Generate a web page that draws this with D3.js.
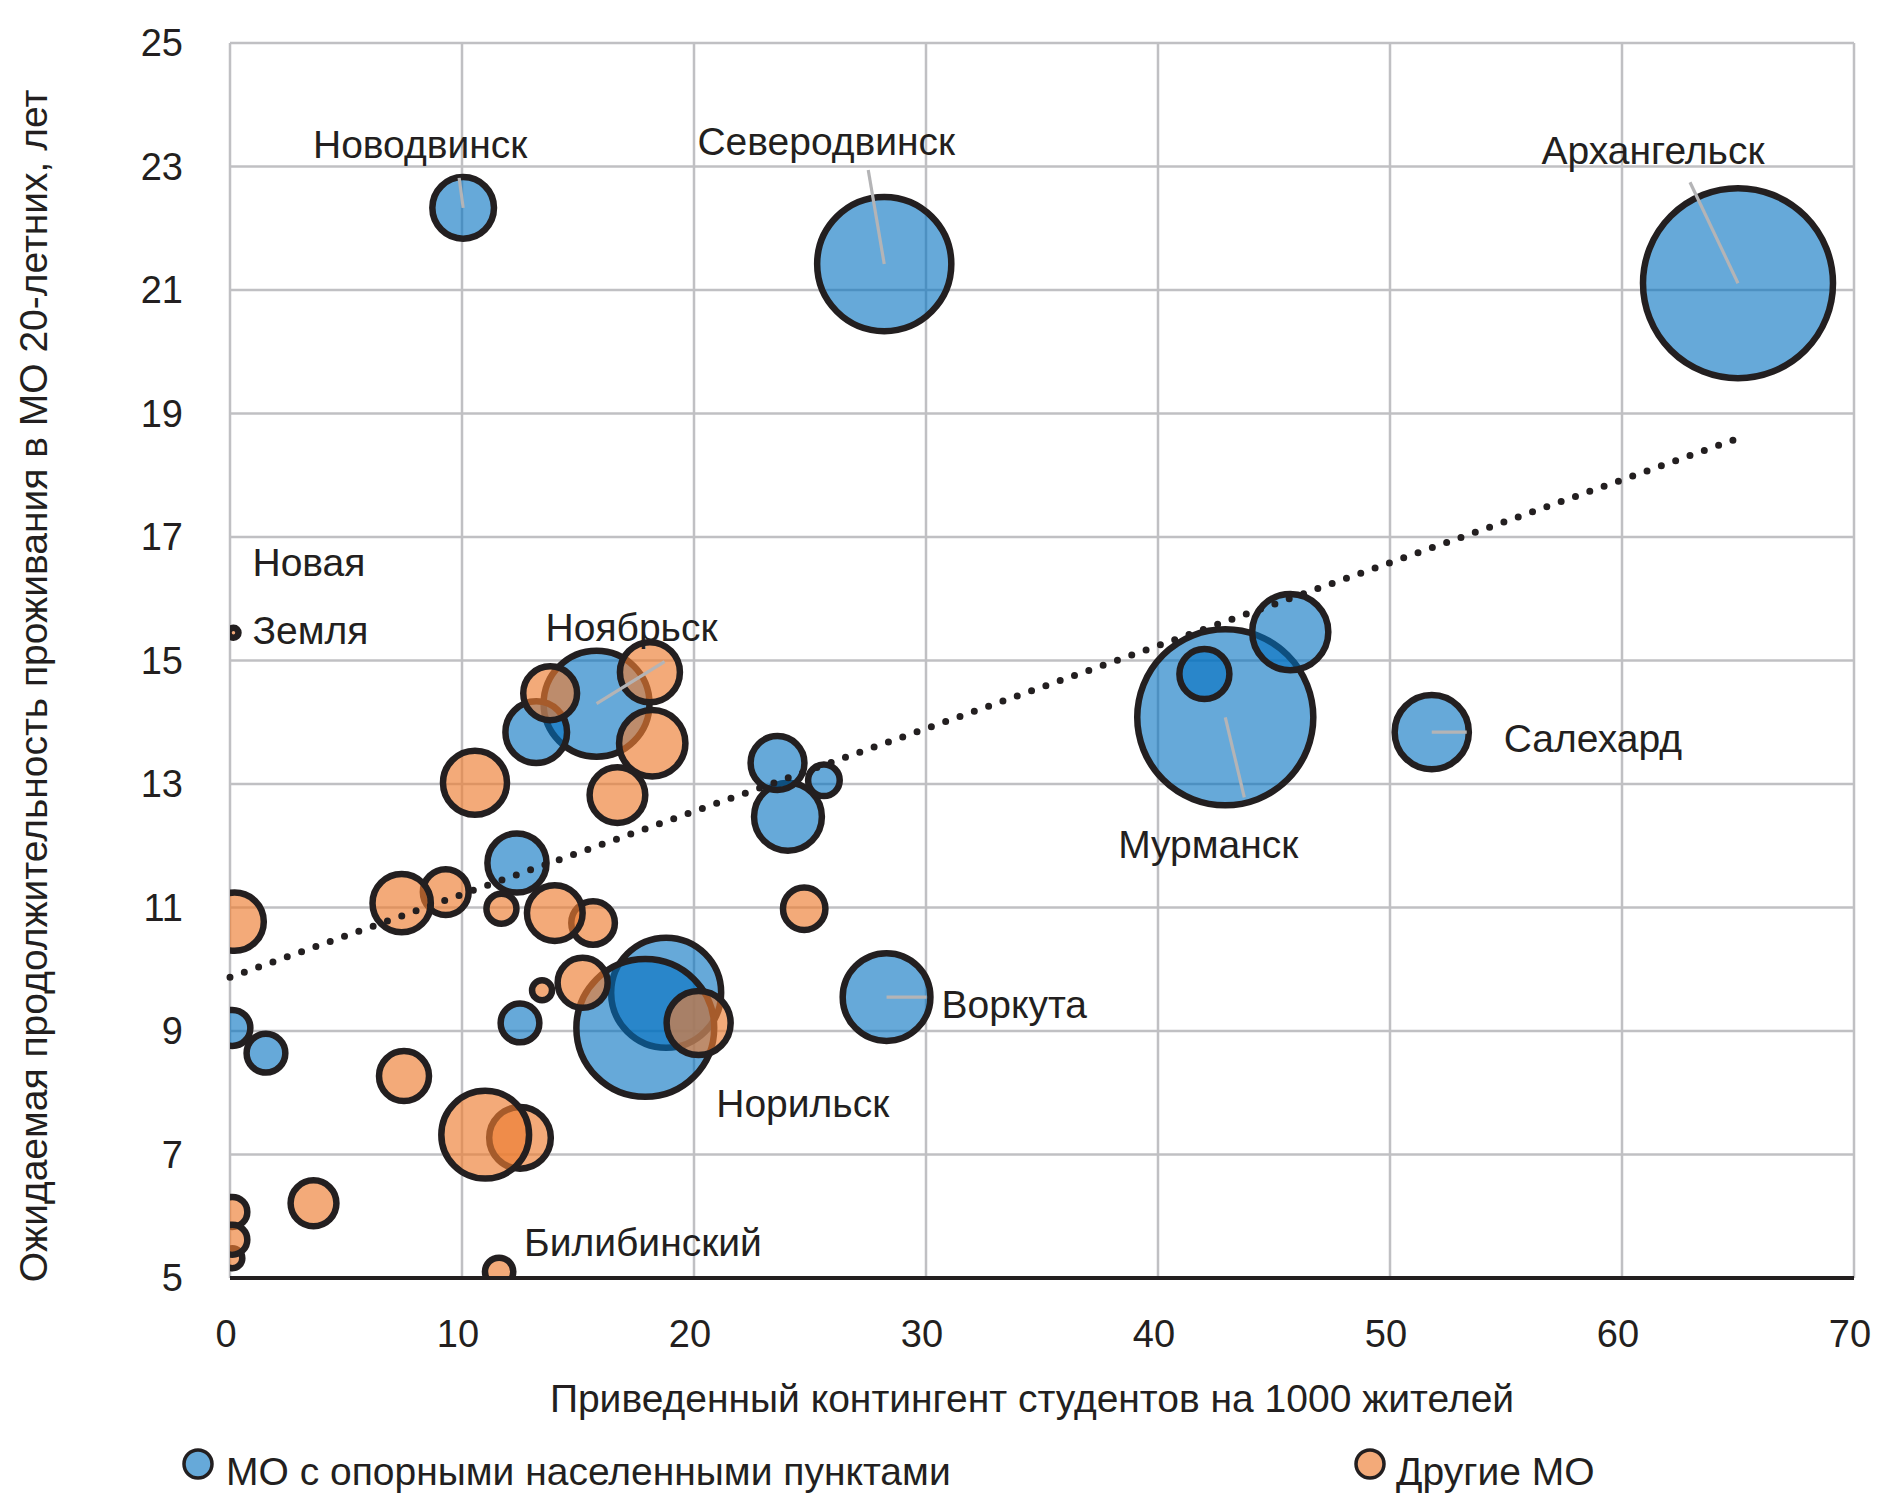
<!DOCTYPE html>
<html>
<head>
<meta charset="utf-8">
<script src="https://cdn.jsdelivr.net/npm/d3@7"></script>
<style>
  body { margin: 0; background: #fff; }
  text { font-family: "Liberation Sans", Arial, sans-serif; fill: #231f20; }
</style>
</head>
<body>
<svg id="chart" width="1892" height="1512"></svg>
<script>
// ---- data ----
const seriesNames = ["МО с опорными населенными пунктами", "Другие МО"];

// МО с опорными населенными пунктами (draw order)
const blueName = ["Ноябрьск", "", "", "Новодвинск", "Северодвинск", "Архангельск", "", "Норильск",
  "", "", "", "", "", "", "Воркута", "Мурманск", "", "", "Салехард"];
const blueX = [15.8, 13.2, 12.37, 10.05, 28.2, 65.0, 18.8, 17.9,
  12.5, 0.1, 1.55, 24.05, 23.6, 25.6, 28.3, 42.9, 42.0, 45.7, 51.8];
const blueY = [14.3, 13.84, 11.72, 22.33, 21.42, 21.11, 9.62, 9.05,
  9.13, 9.05, 8.64, 12.47, 13.34, 13.06, 9.55, 14.08, 14.78, 15.46, 13.84];
const blueSize = [112, 38, 35, 38, 180, 361, 121, 190,
  15, 13, 15, 46, 29, 10, 77, 310, 25, 58, 55];

// Другие МО (draw order)
const orangeName = ["", "", "", "", "", "", "", "", "", "", "", "", "", "", "", "", "", "",
  "", "", "", "", "Билибинский", "Новая Земля"];
const orangeX = [13.8, 18.1, 18.2, 16.7, 10.56, 9.3, 7.4, 0.2, 11.7, 15.65, 14.0, 24.75,
  13.45, 15.2, 20.2, 7.5, 12.5, 11.0, 3.6, 0.1, 0.1, 0.1, 11.6, 0.15];
const orangeY = [14.47, 14.81, 13.66, 12.82, 13.02, 11.25, 11.07, 10.77, 10.98, 10.75, 10.91, 10.98,
  9.66, 9.78, 9.13, 8.27, 7.27, 7.32, 6.21, 6.07, 5.32, 5.62, 5.1, 15.45];
const orangeSize = [29, 36, 44, 31, 41, 21, 34, 34, 9, 19, 31, 18,
  4, 25, 41, 25, 38, 77, 21, 9, 4, 9, 8, 1];

// linear trend line
const trendX = [0, 64.8];
const trendY = [9.87, 18.57];

const xTicks = [0, 10, 20, 30, 40, 50, 60, 70];
const yTicks = [5, 7, 9, 11, 13, 15, 17, 19, 21, 23, 25];

const xTitle = "Приведенный контингент студентов на 1000 жителей";
const yTitle = "Ожидаемая продолжительность проживания в МО 20-летних, лет";

// ---- layout ----
const plot = { left: 230, right: 1854, top: 43, bottom: 1278 };
const blueFill = "rgba(0,112,192,0.6)";
const orangeFill = "rgba(237,125,49,0.65)";
const ink = "#231f20";
const labelFont = "39px";

// label offsets from bubble centre (px); lead = end of the leader line
const labelLayout = {
  "Новодвинск": { dx: -43, dy: -50, anchor: "middle", lead: [-4, -30] },
  "Северодвинск": { dx: -58, dy: -109, anchor: "middle", lead: [-16, -94] },
  "Архангельск": { dx: -85, dy: -119, anchor: "middle", lead: [-48, -101] },
  "Ноябрьск": { dx: 35, dy: -63, anchor: "middle", lead: [68, -42] },
  "Салехард": { dx: 72, dy: 20, anchor: "start", lead: [35, 0] },
  "Мурманск": { dx: -17, dy: 141, anchor: "middle", lead: [19, 80] },
  "Воркута": { dx: 55, dy: 21, anchor: "start", lead: [40, 0] },
  "Норильск": { dx: 71, dy: 89, anchor: "start" },
  "Билибинский": { dx: 25, dy: -16, anchor: "start" },
  "Новая Земля": { dx: 19, dy: 11, anchor: "start", twoLines: true },
};

const svg = d3.select("#chart");

const x = d3.scaleLinear().domain([0, 70]).range([plot.left, plot.right]);
const y = d3.scaleLinear().domain([5, 25]).range([plot.bottom, plot.top]);
const r = d3.scaleSqrt().domain([0, 100]).range([0, 50]);

// grid
svg.append("g")
  .selectAll("line")
  .data(xTicks)
  .join("line")
  .attr("x1", d => x(d)).attr("x2", d => x(d))
  .attr("y1", plot.top).attr("y2", plot.bottom)
  .attr("stroke", "#c0c0c3").attr("stroke-width", 2.5);

svg.append("g")
  .selectAll("line")
  .data(yTicks.slice(1))
  .join("line")
  .attr("x1", plot.left).attr("x2", plot.right)
  .attr("y1", d => y(d)).attr("y2", d => y(d))
  .attr("stroke", "#c0c0c3").attr("stroke-width", 2.5);

// bubbles
svg.append("clipPath").attr("id", "plotClip")
  .append("rect")
  .attr("x", plot.left).attr("y", plot.top)
  .attr("width", plot.right - plot.left).attr("height", plot.bottom - plot.top);

const blue = blueX.map((v, i) => ({ x: v, y: blueY[i], s: blueSize[i], name: blueName[i] }));
const orange = orangeX.map((v, i) => ({ x: v, y: orangeY[i], s: orangeSize[i], name: orangeName[i] }));

const bubbles = svg.append("g").attr("clip-path", "url(#plotClip)");

function drawSeries(data, fill) {
  data.forEach(d => {
    bubbles.append("circle")
      .attr("cx", x(d.x))
      .attr("cy", y(d.y))
      .attr("r", r(d.s))
      .attr("fill", fill)
      .attr("stroke", ink)
      .attr("stroke-width", 6.5);
  });
}
drawSeries(blue, blueFill);
drawSeries(orange, orangeFill);

// bottom axis line
svg.append("line")
  .attr("x1", plot.left).attr("x2", plot.right)
  .attr("y1", plot.bottom).attr("y2", plot.bottom)
  .attr("stroke", ink).attr("stroke-width", 4);

// trend line
svg.append("path")
  .datum(trendX.map((v, i) => [v, trendY[i]]))
  .attr("d", d3.line().x(d => x(d[0])).y(d => y(d[1])))
  .attr("fill", "none")
  .attr("stroke", ink)
  .attr("stroke-width", 7)
  .attr("stroke-linecap", "round")
  .attr("stroke-dasharray", "0 15.2");

// data labels + leader lines
const labelled = blue.concat(orange).filter(d => d.name && labelLayout[d.name]);

labelled.forEach(d => {
  const L = labelLayout[d.name];
  const cx = x(d.x), cy = y(d.y);
  if (L.lead) {
    svg.append("line")
      .attr("x1", cx).attr("y1", cy)
      .attr("x2", cx + L.lead[0]).attr("y2", cy + L.lead[1])
      .attr("stroke", "#b4b4b6").attr("stroke-width", 3.2);
  }
  if (L.twoLines) {
    const parts = d.name.split(" ");
    svg.append("text").text(parts[0])
      .attr("x", cx + L.dx).attr("y", cy + L.dy - 68)
      .attr("text-anchor", L.anchor).style("font-size", labelFont);
    svg.append("text").text(parts[1])
      .attr("x", cx + L.dx).attr("y", cy + L.dy)
      .attr("text-anchor", L.anchor).style("font-size", labelFont);
  } else {
    svg.append("text").text(d.name)
      .attr("x", cx + L.dx).attr("y", cy + L.dy)
      .attr("text-anchor", L.anchor).style("font-size", labelFont);
  }
});

// tick labels
svg.append("g")
  .selectAll("text")
  .data(yTicks)
  .join("text")
  .attr("x", 183)
  .attr("y", d => y(d))
  .attr("dy", "0.35em")
  .attr("text-anchor", "end")
  .style("font-size", "38px")
  .text(d => d);

svg.append("g")
  .selectAll("text")
  .data(xTicks)
  .join("text")
  .attr("x", d => x(d) - 4)
  .attr("y", 1347)
  .attr("text-anchor", "middle")
  .style("font-size", "38px")
  .text(d => d);

// axis titles
svg.append("text")
  .attr("x", 1032).attr("y", 1412)
  .attr("text-anchor", "middle")
  .style("font-size", "39px")
  .text(xTitle);

svg.append("text")
  .attr("transform", "translate(47,686) rotate(-90)")
  .attr("text-anchor", "middle")
  .style("font-size", "39px")
  .text(yTitle);

// legend
const legendItems = [
  { name: seriesNames[0], fill: blueFill, cx: 198, tx: 226 },
  { name: seriesNames[1], fill: orangeFill, cx: 1370, tx: 1396 },
];
legendItems.forEach(l => {
  svg.append("circle")
    .attr("cx", l.cx).attr("cy", 1464).attr("r", 14)
    .attr("fill", l.fill).attr("stroke", ink).attr("stroke-width", 3.5);
  svg.append("text")
    .attr("x", l.tx).attr("y", 1485)
    .style("font-size", "39px")
    .text(l.name);
});
</script>
</body>
</html>
